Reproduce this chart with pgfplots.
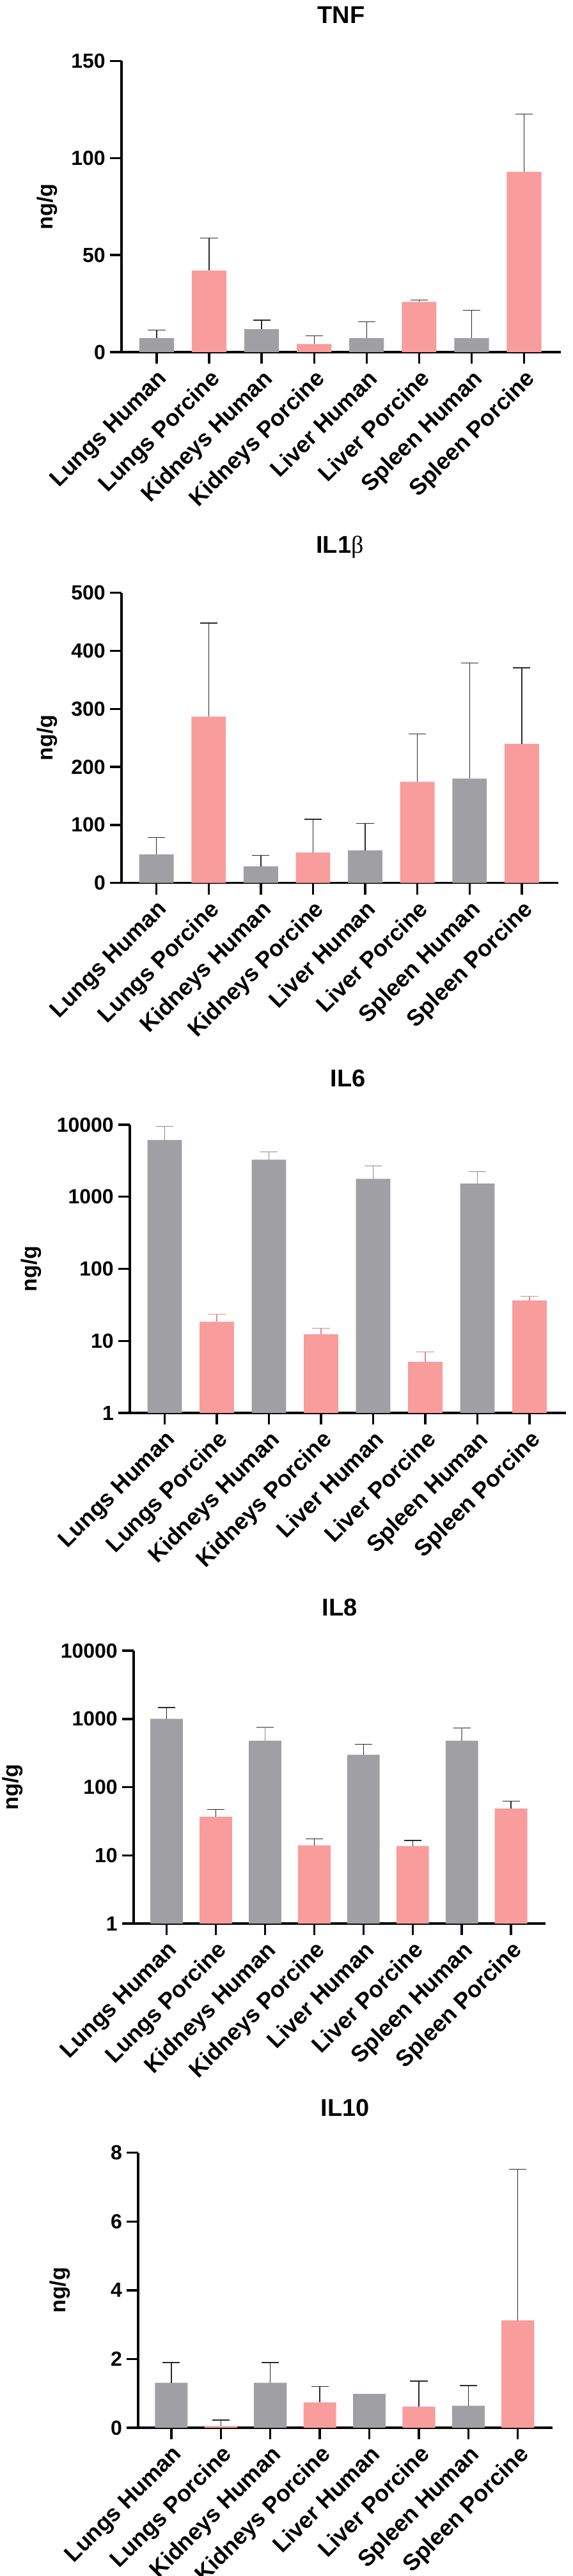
\documentclass[border=0pt]{standalone}
\usepackage{pgfplots}
\pgfplotsset{compat=1.18}
\usepackage{fontspec}
\setmainfont{Liberation Sans}
\newfontfamily\symfont{Liberation Serif}
\definecolor{hum}{HTML}{A0A0A4}
\definecolor{por}{HTML}{F99C9C}
\definecolor{errdark}{HTML}{2A2A2A}
\definecolor{errgray}{HTML}{8C8C8E}
\definecolor{errpink}{HTML}{E08A8A}
\pgfplotsset{
  cyto/.style={
    scale only axis, ybar, bar width=0.66, xmin=-0.67, xmax=7.7, clip=false,
    axis lines=left, axis line style={line width=0.85pt, -},
    tick align=outside, major tick length=4.6pt,
    tick style={line width=0.85pt, black},
    xtick={0,...,7},
    xticklabels={Lungs Human, Lungs Porcine, Kidneys Human, Kidneys Porcine, Liver Human, Liver Porcine, Spleen Human, Spleen Porcine},
    xticklabel style={rotate=45, anchor=north east, inner sep=1pt, font=\bfseries\fontsize{9}{10}\selectfont},
    yticklabel style={font=\bfseries\fontsize{8}{9}\selectfont, inner sep=1.5pt},
    /pgf/number format/assume math mode=true,
    ylabel={ng/g},
    ylabel style={font=\bfseries\fontsize{8.5}{10}\selectfont},
    title style={font=\bfseries\fontsize{9.5}{11}\selectfont, anchor=center},
  },
  errs/.style={error bars/.cd, y dir=plus, y explicit,
    error bar style={draw=#1, line width=0.35pt, solid},
    error mark options={rotate=90, mark size=3.4pt, line width=0.35pt, draw=#1}},
  hbar/.style={fill=hum, draw=none, bar shift=0pt},
  pbar/.style={fill=por, draw=none, bar shift=0pt},
}
\newcommand{\xext}{\draw[line width=0.85pt] (axis description cs:0,0) -- ([xshift=-4.6pt]axis description cs:0,0);}
\begin{document}
\begin{tikzpicture}
\useasboundingbox (0,0) rectangle (224pt,-1007.75pt);

% ---------- TNF ----------
\begin{axis}[cyto, at={(47.5pt,-137.75pt)}, anchor=south west,
  width=171.75pt, height=113.9pt, ymin=0, ymax=150, ytick={0,50,100,150},
  title={TNF}, title style={at={(axis description cs:0.5,1)}, yshift=12pt},
  ylabel style={at={([xshift=-29pt]axis description cs:0,0.5)}, anchor=center}]
\addplot[hbar, errs=errdark] coordinates {(0,7.2) +- (0,4.2) (2,11.8) +- (0,4.7) (4,7.2) +- (0,8.4) (6,7.2) +- (0,14.3)};
\addplot[pbar, errs=errdark] coordinates {(1,42) +- (0,16.8) (3,4.2) +- (0,4.2) (5,25.9) +- (0,1.0) (7,92.9) +- (0,29.7)};
\xext
\end{axis}

% ---------- IL1b ----------
\begin{axis}[cyto, at={(47.5pt,-345.4pt)}, anchor=south west,
  width=170.75pt, height=113.5pt, ymin=0, ymax=500, ytick={0,100,...,500},
  title={IL1{\symfont\mdseries β}}, title style={at={(axis description cs:0.5,1)}, yshift=11.9pt},
  ylabel style={at={([xshift=-29pt]axis description cs:0,0.5)}, anchor=center}]
\addplot[hbar, errs=errdark] coordinates {(0,48.9) +- (0,29.2) (2,28.7) +- (0,18.5) (4,56.2) +- (0,46.6) (6,179.8) +- (0,198.9)};
\addplot[pbar, errs=errdark] coordinates {(1,286.5) +- (0,161.3) (3,52.2) +- (0,57.4) (5,174.2) +- (0,82.5) (7,239.9) +- (0,130.9)};
\xext
\end{axis}

% ---------- IL6 ----------
\begin{axis}[cyto, ymode=log, at={(50.75pt,-552.75pt)}, anchor=south west,
  width=170.5pt, height=112.75pt, ymin=1, ymax=10000,
  ytick={1,10,100,1000,10000}, yticklabels={1,10,100,1000,10000}, yminorticks=false,
  title={IL6}, title style={at={(axis description cs:0.5,1)}, yshift=12.25pt},
  ylabel style={at={([xshift=-38.5pt]axis description cs:0,0.5)}, anchor=center}]
\addplot[hbar, errs=errgray] coordinates {(0,6135) +- (0,3355) (2,3283) +- (0,932) (4,1778) +- (0,889) (6,1521) +- (0,713)};
\addplot[pbar, errs=errpink] coordinates {(1,18.4) +- (0,5.0) (3,12.4) +- (0,2.6) (5,5.12) +- (0,1.95) (7,36.3) +- (0,5.2)};
\xext
\end{axis}

% ---------- IL8 ----------
\begin{axis}[cyto, ymode=log, at={(52.25pt,-752.5pt)}, anchor=south west,
  width=161pt, height=106.75pt, ymin=1, ymax=10000,
  ytick={1,10,100,1000,10000}, yticklabels={1,10,100,1000,10000}, yminorticks=false,
  title={IL8}, title style={at={(axis description cs:0.5,1)}, yshift=11pt},
  ylabel style={at={([xshift=-47.25pt]axis description cs:0,0.5)}, anchor=center}]
\addplot[hbar, errs=errdark] coordinates {(0,1003) +- (0,470) (4,299) +- (0,126)};
\addplot[hbar, errs=errgray] coordinates {(2,480) +- (0,273) (6,480) +- (0,257)};
\addplot[pbar, errs=errdark] coordinates {(1,36.9) +- (0,10.2) (3,14.0) +- (0,3.5) (5,13.7) +- (0,2.8) (7,48.6) +- (0,14.0)};
\xext
\end{axis}

% ---------- IL10 ----------
\begin{axis}[cyto, at={(54pt,-949.75pt)}, anchor=south west,
  width=162pt, height=107.6pt, ymin=0, ymax=8, ytick={0,2,4,6,8},
  title={IL10}, title style={at={(axis description cs:0.5,1)}, yshift=11.6pt},
  ylabel style={at={([xshift=-30.5pt]axis description cs:0,0.5)}, anchor=center}]
\addplot[hbar, errs=errdark] coordinates {(0,1.31) +- (0,0.59) (2,1.31) +- (0,0.59) (6,0.64) +- (0,0.59)};
\addplot[hbar] coordinates {(4,0.985)};
\addplot[pbar, errs=errdark] coordinates {(1,0.05) +- (0,0.177) (3,0.739) +- (0,0.463) (5,0.611) +- (0,0.75) (7,3.12) +- (0,4.40)};
\xext
\end{axis}
\end{tikzpicture}
\end{document}
